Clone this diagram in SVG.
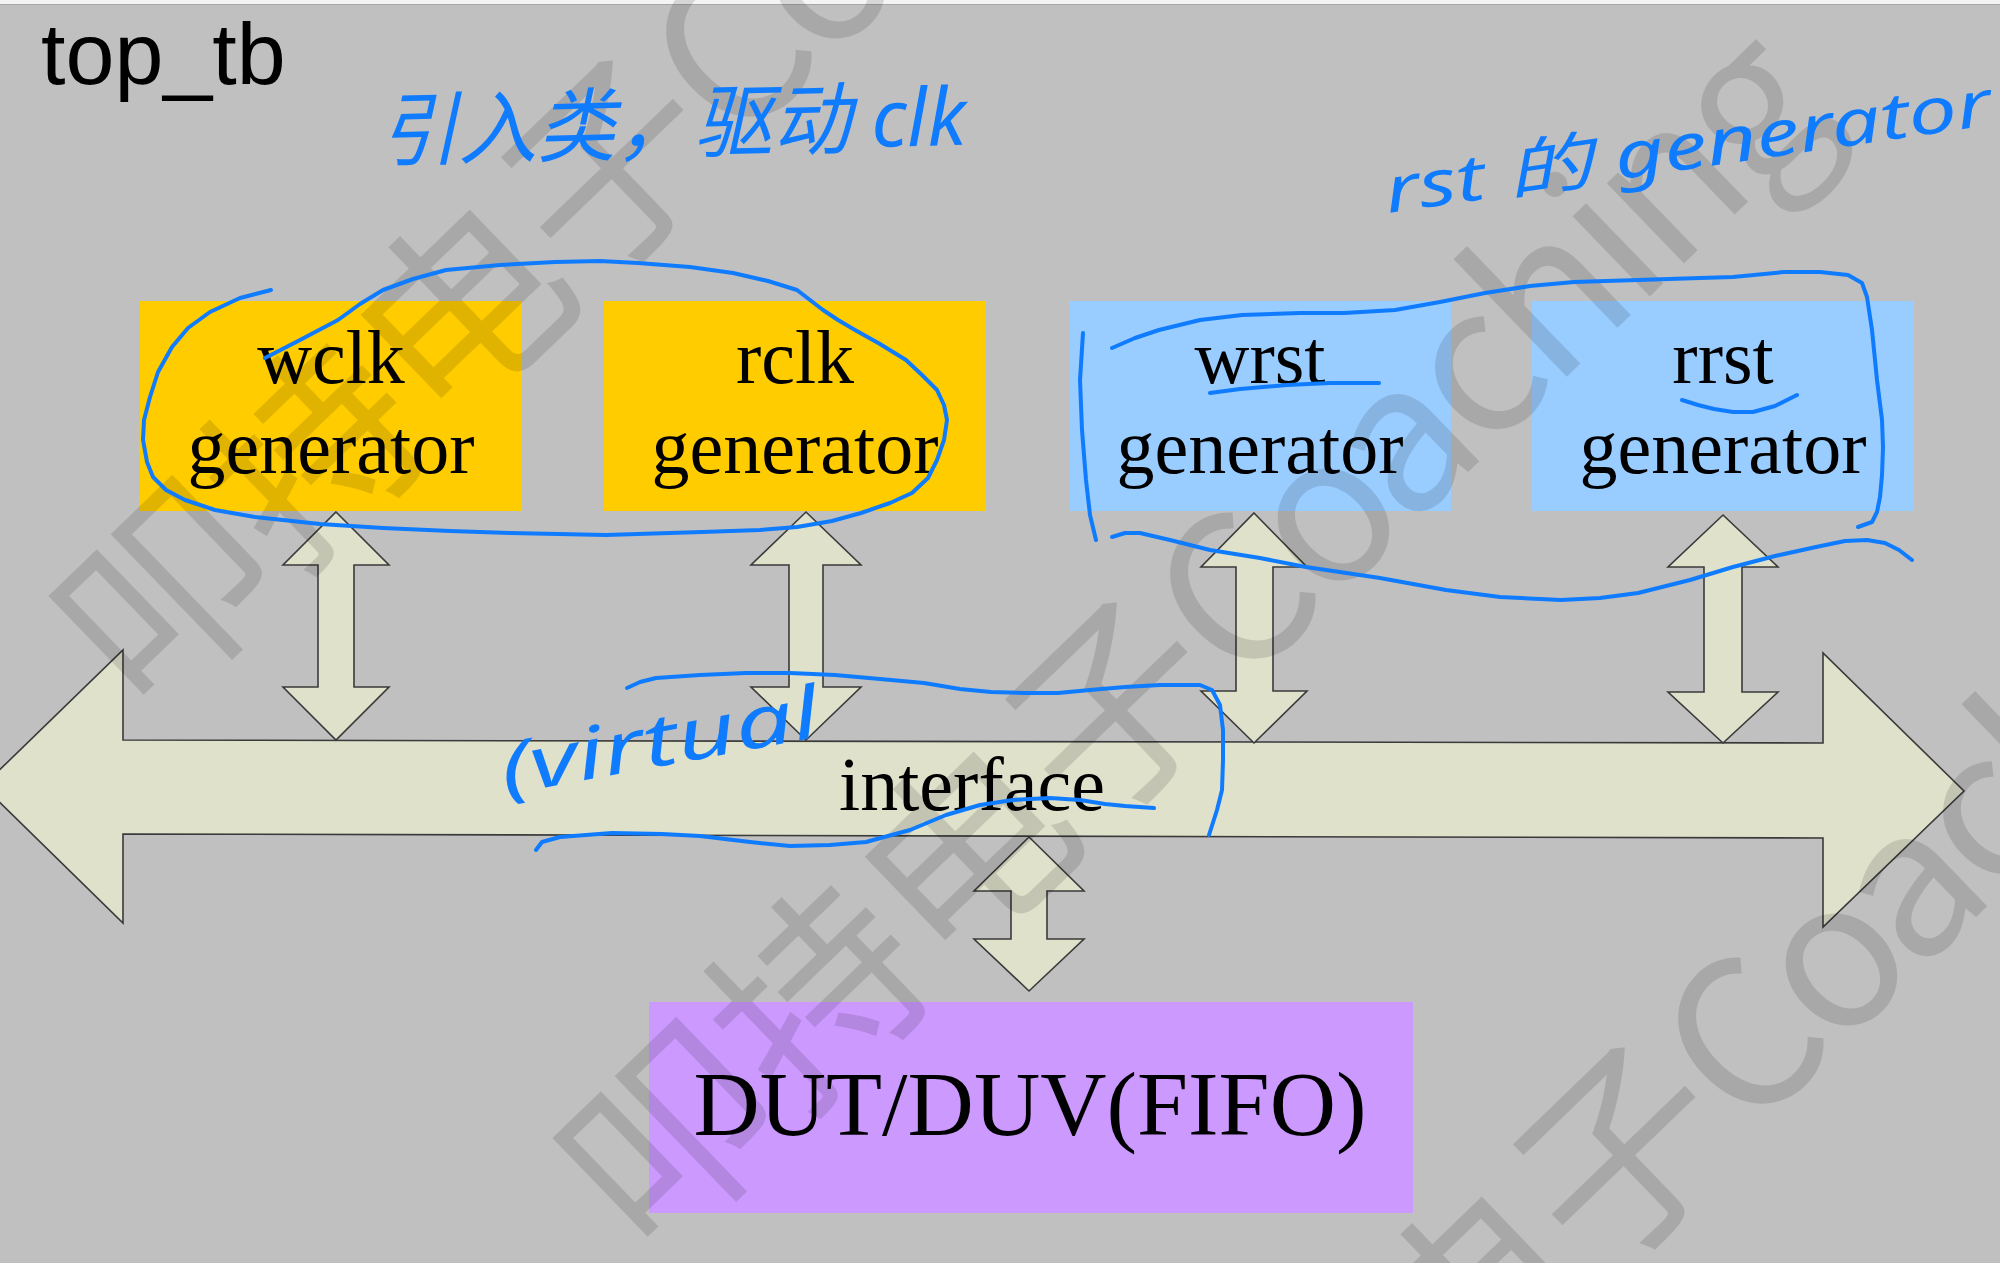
<svg xmlns="http://www.w3.org/2000/svg" width="2000" height="1263" viewBox="0 0 2000 1263">
<style>
.box-text{font-family:"Liberation Serif","Times New Roman",serif;font-size:76px;fill:#000;text-anchor:middle}
.conn{fill:#DFE1CB;stroke:#3a3a3a;stroke-width:1.6;stroke-linejoin:miter}
.ink{fill:none;stroke:#0F7BFF;stroke-width:4;stroke-linecap:round;stroke-linejoin:round}
.inktext{font-family:"Noto Sans","Noto Sans CJK SC",sans-serif;font-style:italic;fill:#0F7BFF}
.wm{font-family:"Noto Sans CJK SC","Noto Sans",sans-serif;font-size:205px;fill:#000;fill-opacity:0.12}
.wm tspan{letter-spacing:-9px}
</style>
<rect x="0" y="0" width="2000" height="1263" fill="#C0C0C0"/>
<rect x="0" y="0" width="2000" height="4" fill="#F4F4F4"/>
<line x1="0" y1="4.5" x2="2000" y2="4.5" stroke="#A8A8A8" stroke-width="1"/>

<g id="top_tb">
<text x="41" y="84" font-family="'Liberation Sans',Arial,sans-serif" font-size="88" fill="#000">top_tb</text>
</g>

<g id="wclk_generator">
<rect x="140" y="301" width="382" height="210" fill="#FFCC00"/>
<text class="box-text" x="331" y="383">wclk</text>
<text class="box-text" x="331" y="473">generator</text>
</g>
<g id="rclk_generator">
<rect x="604" y="301" width="382" height="210" fill="#FFCC00"/>
<text class="box-text" x="795" y="383">rclk</text>
<text class="box-text" x="795" y="473">generator</text>
</g>
<g id="wrst_generator">
<rect x="1069" y="301" width="382" height="210" fill="#99CCFF"/>
<text class="box-text" x="1260" y="383">wrst</text>
<text class="box-text" x="1260" y="473">generator</text>
</g>
<g id="rrst_generator">
<rect x="1532" y="301" width="382" height="210" fill="#99CCFF"/>
<text class="box-text" x="1723" y="383">rrst</text>
<text class="box-text" x="1723" y="473">generator</text>
</g>

<g id="interface">
<polygon class="conn" points="-17,786 123,650 123,740 1823,743 1823,653 1964,791 1823,927 1823,838 123,834 123,923"/>
<text class="box-text" x="972" y="810">interface</text>
</g>

<g id="dut">
<rect x="649" y="1002" width="764" height="211" fill="#CC99FF"/>
<text x="1030" y="1135" font-family="'Liberation Serif','Times New Roman',serif" font-size="90" text-anchor="middle" textLength="673" lengthAdjust="spacingAndGlyphs">DUT/DUV(FIFO)</text>
</g>

<g id="connectors">
<polygon class="conn" points="336,512 389,565 354,565 354,687 389,687 336,740 283,687 318,687 318,565 283,565"/>
<polygon class="conn" points="806,512 861,565 823,565 823,687 861,687 806,740 751,687 789,687 789,565 751,565"/>
<polygon class="conn" points="1254,513 1307,567 1273,567 1273,691 1307,691 1254,743 1201,691 1236,691 1236,567 1201,567"/>
<polygon class="conn" points="1723,515 1778,567 1742,567 1742,692 1778,692 1723,743 1668,692 1704,692 1704,567 1668,567"/>
<polygon class="conn" points="1029,837 1084,891 1047,891 1047,939 1084,939 1029,991 974,939 1011,939 1011,891 974,891"/>
</g>

<g id="watermark">
<text class="wm" transform="translate(146,720) rotate(-44)">叩持电子<tspan>Coaching</tspan></text>
<text class="wm" transform="translate(650,1262) rotate(-44)">叩持电子<tspan>Coaching</tspan></text>
<text class="wm" transform="translate(1158,1707) rotate(-44)">叩持电子<tspan>Coaching</tspan></text>
</g>

<g id="annotations">
<path class="ink" d="M271,290 L240,298 L210,312 L188,328 L172,347 L158,372 L150,397 L144,420 L143,440 L147,462 L153,477 L166,490 L185,500 L215,510 L255,517 L320,524 L383,528 L450,531 L510,533 L606,535 L702,532 L760,530 L797,527 L832,521 L861,513 L890,503 L912,493 L928,478 L937,460 L944,440 L947,420 L944,405 L937,390 L922,375 L906,360 L880,344 L855,330 L838,320 L823,310 L810,300 L797,290 L768,281 L733,273 L690,267 L638,263 L600,261 L555,262 L500,265 L446,270 L413,279 L383,290 L360,304 L338,320 L300,340 L265,358"/>
<path class="ink" d="M1112,348 L1135,338 L1159,330 L1200,320 L1242,315 L1300,313 L1344,313 L1395,310 L1440,302 L1485,293 L1530,286 L1574,282 L1638,280 L1700,278 L1733,277 L1784,272 L1820,272 L1848,275 L1862,283 L1867,297 L1872,330 L1877,380 L1882,420 L1883,447 L1882,475 L1880,497 L1877,512 L1872,522 L1858,527"/>
<path class="ink" d="M1083,333 L1080,380 L1082,430 L1086,480 L1090,515 L1096,540"/>
<path class="ink" d="M1112,537 L1125,533 L1140,533 L1170,540 L1210,550 L1260,558 L1306,567 L1380,578 L1446,590 L1500,597 L1561,600 L1600,598 L1638,593 L1690,580 L1733,567 L1775,556 L1816,547 L1845,541 L1867,540 L1885,543 L1899,550 L1912,560"/>
<path class="ink" d="M1210,393 L1240,389 L1287,385 L1330,383 L1379,383"/>
<path class="ink" d="M1682,400 L1698,405 L1714,409 L1733,412 L1753,412 L1775,406 L1797,395"/>
<path class="ink" d="M627,688 L640,682 L656,678 L700,675 L746,673 L790,673 L835,675 L880,679 L924,683 L960,689 L991,692 L1025,693 L1058,693 L1090,690 L1125,687 L1160,685 L1200,685 L1212,690 L1220,705 L1223,730 L1223,760 L1222,790 L1217,810 L1209,835"/>
<path class="ink" d="M536,850 L542,842 L560,837 L612,833 L662,834 L700,836 L750,842 L790,846 L830,845 L866,842 L910,830 L946,815 L980,805 L1013,800 L1050,798 L1080,800 L1105,804 L1125,806 L1154,808"/>
<text class="inktext" font-size="80" transform="translate(380,160) rotate(-1.5)" textLength="587" lengthAdjust="spacingAndGlyphs">引入类，驱动 clk</text>
<text class="inktext" font-size="64" transform="translate(1388,213) rotate(-8.3)" textLength="612" lengthAdjust="spacingAndGlyphs">rst 的 generator</text>
<text class="inktext" font-size="72" transform="translate(505,795) rotate(-10.5)" textLength="323" lengthAdjust="spacingAndGlyphs">(virtual</text>
</g>
</svg>
